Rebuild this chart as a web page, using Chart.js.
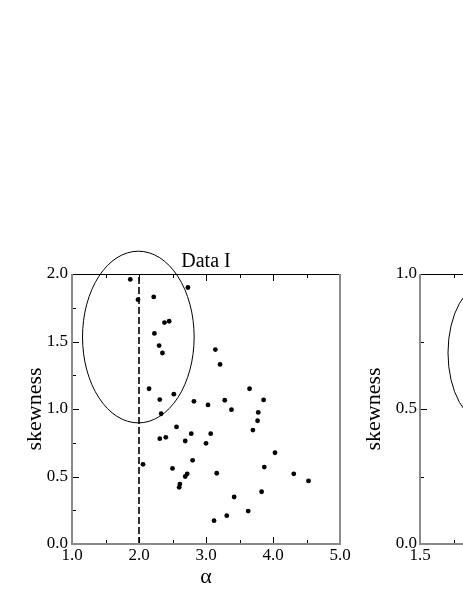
<!DOCTYPE html>
<html>
<head>
<meta charset="utf-8">
<script src="https://cdn.jsdelivr.net/npm/chart.js@4"></script>
<style>
  html, body { margin: 0; padding: 0; background: #fff; }
  body { width: 463px; height: 599px; overflow: hidden; position: relative; }
  canvas { position: absolute; top: 240px; }
  #chartA { left: 0; }
  #chartB { left: 350px; }
</style>
</head>
<body>
<canvas id="chartA" width="380" height="359"></canvas>
<canvas id="chartB" width="420" height="359"></canvas>
<script>
// ── Data I : alpha vs skewness ───────────────────────────────────────
const alphaVals = [1.87, 2.73, 1.985, 2.22, 2.38, 2.45, 2.23, 2.30, 2.35, 2.15, 2.52, 2.31,
  3.14, 3.21, 3.65, 3.28, 3.86, 2.82, 3.03, 2.33, 2.56, 2.78, 2.31, 2.40, 2.69, 3.00,
  2.80, 2.06, 2.50, 2.72, 2.69, 2.61, 2.60, 3.38, 3.78, 3.77, 3.70, 3.07, 4.03, 3.87,
  3.16, 4.31, 4.53, 3.83, 3.42, 3.63, 3.31, 3.12];
const skewVals = [1.96, 1.90, 1.81, 1.83, 1.64, 1.65, 1.56, 1.47, 1.415, 1.15, 1.11, 1.07,
  1.44, 1.33, 1.15, 1.065, 1.067, 1.057, 1.03, 0.965, 0.867, 0.817, 0.78, 0.79, 0.763, 0.746,
  0.62, 0.59, 0.56, 0.52, 0.50, 0.444, 0.42, 0.995, 0.975, 0.913, 0.844, 0.817, 0.676, 0.57,
  0.524, 0.52, 0.467, 0.387, 0.348, 0.244, 0.21, 0.173];

// vertical cut at alpha = 2
const cutAlpha = 2.0;
const cutRange = [0, 2];

// ellipse (data units): centre x, centre y, half-width, half-height
const ellipseA = [1.99, 1.533, 0.833, 0.636];
const ellipseB = [2.0, 0.708, 0.291, 0.259];

const SERIF = '"Liberation Serif", "DejaVu Serif", serif';

// inner tick marks + frame, the ellipse and the panel title, drawn through the scales
const framePlugin = {
  id: 'frame',
  afterDatasetsDraw(chart, args, opts) {
    const { ctx, chartArea: a, scales: { x, y } } = chart;
    ctx.save();
    ctx.lineWidth = 1;
    ctx.strokeStyle = '#000';
    const major = 7, minor = 4;
    const xt = x.ticks.map(t => t.value);
    const yt = y.ticks.map(t => t.value);
    const xs = xt[1] - xt[0], ys = yt[1] - yt[0];
    ctx.beginPath();
    xt.forEach(v => {
      const p = Math.round(x.getPixelForValue(v)) + 0.5;
      ctx.moveTo(p, a.bottom); ctx.lineTo(p, a.bottom - major);
      ctx.moveTo(p, a.top); ctx.lineTo(p, a.top + major);
      if (v + xs / 2 < x.max) {
        const q = Math.round(x.getPixelForValue(v + xs / 2)) + 0.5;
        ctx.moveTo(q, a.bottom); ctx.lineTo(q, a.bottom - minor);
        ctx.moveTo(q, a.top); ctx.lineTo(q, a.top + minor);
      }
    });
    yt.forEach(v => {
      const p = Math.round(y.getPixelForValue(v)) + 0.5;
      ctx.moveTo(a.left, p); ctx.lineTo(a.left + major, p);
      if (v + ys / 2 < y.max) {
        const q = Math.round(y.getPixelForValue(v + ys / 2)) + 0.5;
        ctx.moveTo(a.left, q); ctx.lineTo(a.left + minor, q);
      }
    });
    ctx.stroke();

    // frame: crisp black top, softer left / bottom / right
    ctx.beginPath();
    ctx.moveTo(a.left, Math.round(a.top) + 0.5);
    ctx.lineTo(a.right, Math.round(a.top) + 0.5);
    ctx.stroke();
    ctx.strokeStyle = '#8a8a8a';
    ctx.lineWidth = 2;
    ctx.beginPath();
    ctx.moveTo(a.left, a.top); ctx.lineTo(a.left, a.bottom);
    ctx.lineTo(a.right, a.bottom); ctx.lineTo(a.right, a.top);
    ctx.stroke();

    // ellipse
    const [cx, cy, rx, ry] = opts.ellipse;
    const px = x.getPixelForValue(cx), py = y.getPixelForValue(cy);
    const prx = Math.abs(x.getPixelForValue(cx + rx) - px);
    const pry = Math.abs(y.getPixelForValue(cy + ry) - py);
    ctx.strokeStyle = '#000';
    ctx.lineWidth = 1;
    ctx.beginPath();
    ctx.ellipse(px, py, prx, pry, 0, 0, Math.PI * 2);
    ctx.stroke();

    // panel title, centred over the plot area
    if (opts.title) {
      ctx.fillStyle = '#000';
      ctx.font = '20px ' + SERIF;
      ctx.textAlign = 'center';
      ctx.textBaseline = 'alphabetic';
      ctx.fillText(opts.title, (a.left + a.right) / 2, a.top - 7.5);
    }
    ctx.restore();
  }
};

function axes(xMin, xMax, xStep, yMin, yMax, yStep, yAxisWidth, yTitlePad, yLabelPad) {
  return {
    x: {
      type: 'linear', min: xMin, max: xMax,
      afterFit: s => { s.height = 55; },
      ticks: { stepSize: xStep, color: '#000', padding: 1, maxRotation: 0,
               font: { family: SERIF, size: 17 }, callback: v => v.toFixed(1) },
      grid: { display: false, drawTicks: false },
      border: { display: false },
      title: { display: true, text: 'α', color: '#000',
               font: { family: SERIF, size: 22 }, padding: { top: 0, bottom: 8.2 } }
    },
    y: {
      type: 'linear', min: yMin, max: yMax,
      afterFit: s => { s.width = yAxisWidth; },
      ticks: { stepSize: yStep, color: '#000', padding: yLabelPad,
               font: { family: SERIF, size: 17 }, callback: v => v.toFixed(1) },
      grid: { display: false, drawTicks: false },
      border: { display: false },
      title: { display: true, text: 'skewness', color: '#000',
               font: { family: SERIF, size: 22 }, padding: { top: yTitlePad, bottom: 0 } }
    }
  };
}

new Chart(document.getElementById('chartA'), {
  type: 'scatter',
  data: {
    datasets: [
      {
        label: 'Data I',
        data: alphaVals.map((a, i) => ({ x: a, y: skewVals[i] })),
        backgroundColor: '#000', borderWidth: 0, pointRadius: 2.4
      },
      {
        label: 'cut',
        data: cutRange.map(v => ({ x: cutAlpha, y: v })),
        showLine: true, borderColor: '#000', borderWidth: 1.6,
        borderDash: [7, 3], pointRadius: 0
      }
    ]
  },
  options: {
    responsive: false, animation: false,
    layout: { padding: { left: 0, right: 40, top: 34, bottom: 0 } },
    plugins: {
      legend: { display: false },
      tooltip: { enabled: false },
      frame: { ellipse: ellipseA, title: 'Data I' }
    },
    scales: axes(1, 5, 1, 0, 2, 0.5, 72, 22.4, 4)
  },
  plugins: [framePlugin]
});

new Chart(document.getElementById('chartB'), {
  type: 'scatter',
  data: { datasets: [] },
  options: {
    responsive: false, animation: false,
    layout: { padding: { left: 0, right: 82, top: 34, bottom: 0 } },
    plugins: {
      legend: { display: false },
      tooltip: { enabled: false },
      frame: { ellipse: ellipseB }
    },
    scales: axes(1.5, 3.5, 0.5, 0, 1, 0.5, 70, 11.1, 3)
  },
  plugins: [framePlugin]
});
</script>
</body>
</html>
